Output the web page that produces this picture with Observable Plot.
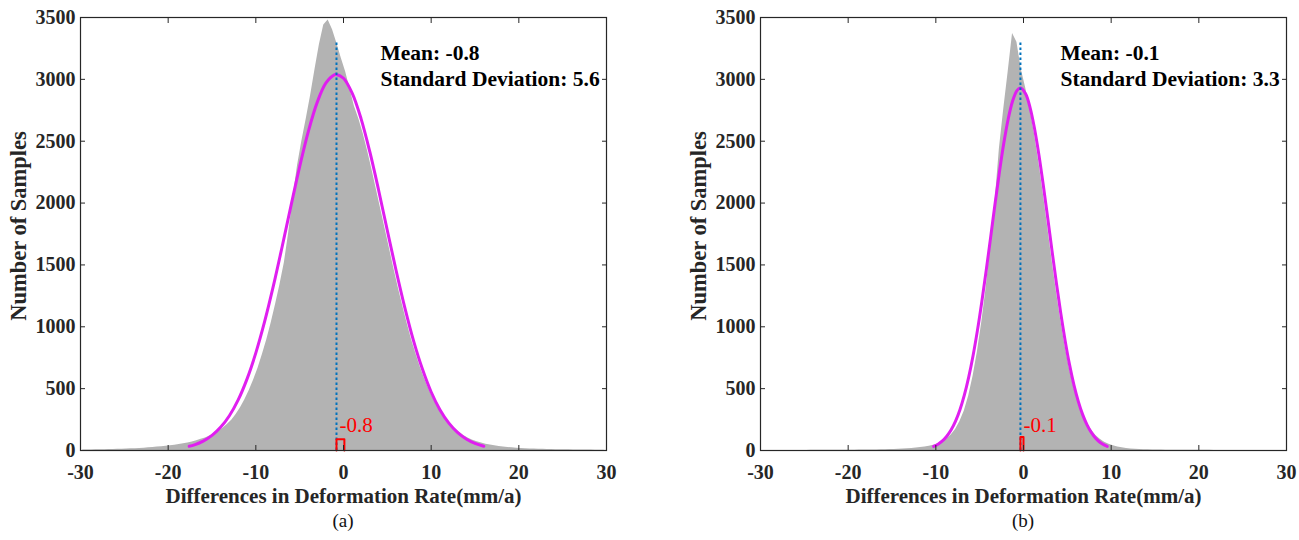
<!DOCTYPE html>
<html>
<head>
<meta charset="utf-8">
<script src="https://cdn.jsdelivr.net/npm/d3@7"></script>
<script src="https://cdn.jsdelivr.net/npm/@observablehq/plot@0.6"></script>
<style>
  html, body { margin: 0; padding: 0; background: #fff; }
  #wrap { position: relative; width: 1299px; height: 540px; overflow: hidden; font-family: "Liberation Serif", "Times New Roman", serif; }
  .panel { position: absolute; top: 0; width: 619px; }
  .cap { position: absolute; top: 510px; width: 80px; text-align: center; font-size: 19px; line-height: 22px; color: #111; }
</style>
</head>
<body>
<div id="wrap">
  <div class="panel" id="pa" style="left:0px"></div>
  <div class="panel" id="pb" style="left:680px"></div>
  <div class="cap" style="left:303px">(a)</div>
  <div class="cap" style="left:983px">(b)</div>
</div>
<script>
// ---- tick labels ----
const xTicks = [-30, -20, -10, 0, 10, 20, 30];
const yTicks = [0, 500, 1000, 1500, 2000, 2500, 3000, 3500];
const xLabel = "Differences in Deformation Rate(mm/a)";
const yLabel = "Number of Samples";

// ---- histogram bins: 0.5 wide, from -30 to 30 ----
const binStart = -30, binWidth = 0.5;
const countsA = [
  4,5,5,6,7,7,8,9,10,11,12,14,15,17,19,22,25,28,31,35,
  39,43,48,54,61,68,78,90,102,118,135,155,180,210,245,290,345,410,485,570,
  665,775,895,1030,1180,1340,1515,1760,2040,2300,2500,2680,2870,3080,3280,3440,3480,3400,3290,3170,
  3060,2920,2780,2680,2560,2420,2270,2110,1950,1790,1630,1470,1315,1170,1030,900,785,675,580,495,
  420,355,300,252,210,175,145,120,100,83,70,60,51,44,38,33,29,25,22,19,
  17,15,13,12,11,10,9,8,7,7,6,6,5,5,4,4,4,3,3,3
];
const countsB = [
  1,1,1,1,1,1,1,1,1,1,1,2,2,2,2,2,2,2,3,3,
  3,3,4,4,4,5,5,6,7,8,9,10,12,14,17,20,24,29,35,42,
  52,68,92,125,170,235,320,440,600,800,1040,1320,1660,2000,2440,2760,3060,3370,3300,3080,
  2930,2760,2560,2330,2080,1810,1540,1285,1050,840,660,510,390,295,220,165,122,90,66,50,
  38,29,22,17,13,10,8,7,6,5,4,4,3,3,3,3,2,2,2,2,
  2,2,2,1,1,1,1,1,1,1,1,1,1,1,1,1,1,1,1,1
];

// ---- fitted normal curves ----
const curveAx = [-17.6,-17,-16,-15,-14,-13,-12,-11,-10,-9,-8,-7,-6,-5,-4,-3,-2,-1,-0.8,0,1,2,3,4,5,6,7,8,9,10,11,12,13,14,15,16];
const curveAy = [34,46,76,122,189,283,411,579,789,1041,1330,1647,1975,2295,2582,2814,2971,3038,3040,3009,2887,2683,2415,2106,1778,1455,1153,884,658,473,330,223,146,93,57,34];
const curveBx = [-10.25,-9.75,-9.25,-8.75,-8.25,-7.75,-7.25,-6.75,-6.25,-5.75,-5.25,-4.75,-4.25,-3.75,-3.25,-2.75,-2.25,-1.75,-1.25,-0.75,-0.35,0.25,0.75,1.25,1.75,2.25,2.75,3.25,3.75,4.25,4.75,5.25,5.75,6.25,6.75,7.25,7.75,8.25,8.75,9.25,9.55];
const curveBy = [33,51,77,115,167,237,329,447,593,768,973,1205,1457,1723,1992,2249,2483,2678,2823,2909,2930,2882,2772,2605,2393,2148,1885,1616,1354,1109,888,694,531,397,290,207,144,98,65,43,33];

// ---- statistics ----
const meanA = -0.8, sdA = 5.6, meanLineA = -0.8, meanTopA = 3300;
const meanB = -0.1, sdB = 3.3, meanLineB = -0.35, meanTopB = 3300;
const markerA = {w: 0.9, h: 90};
const markerB = {w: 0.35, h: 110};

const SERIF = "'Liberation Serif', 'Times New Roman', serif";
const INK = "#262626";
const fmt = d => String(d);

function panel(counts, cx, cy, mean, sd, lineX, lineTop, marker) {
  const hist = counts.map((c, i) => ({x: binStart + binWidth * (i + 0.5), count: c}));
  const curve = cx.map((x, i) => ({x, y: cy[i]}));
  const mk = [
    {x: lineX, y: 0}, {x: lineX, y: marker.h},
    {x: lineX + marker.w, y: marker.h}, {x: lineX + marker.w, y: 0}
  ];
  const meanStr = mean.toFixed(1);
  const info = `Mean: ${meanStr}\nStandard Deviation: ${sd.toFixed(1)}`;
  const font = {fontFamily: SERIF, fontWeight: "bold", fontSize: 21};
  const tickFont = {fontFamily: SERIF, fontWeight: "bold", fontSize: 20};
  return Plot.plot({
    width: 619, height: 510,
    marginLeft: 80, marginRight: 13, marginTop: 17, marginBottom: 60,
    x: {domain: [-30, 30], label: null},
    y: {domain: [0, 3500], label: null},
    style: {fontFamily: SERIF, fontSize: "21px", fontWeight: "bold", color: INK, background: "transparent", overflow: "visible"},
    marks: [
      Plot.areaY(hist, {x: "x", y: "count", fill: "#b3b3b3"}),
      Plot.line(curve, {x: "x", y: "y", stroke: "#e01ef0", strokeWidth: 3, curve: "catmull-rom"}),
      Plot.ruleX([lineX], {y1: 0, y2: lineTop, stroke: "#0072bd", strokeWidth: 2, strokeDasharray: "2.5,2.5"}),
      Plot.line(mk, {x: "x", y: "y", stroke: "#ff0000", strokeWidth: 2}),
      Plot.text([meanStr], {x: lineX, y: 200, text: d => d, textAnchor: "start", dx: 3, fill: "#ff0000", fontFamily: SERIF, fontWeight: "normal", fontSize: 21}),
      Plot.text([info], {frameAnchor: "top-left", dx: 300, dy: 25, text: d => d, textAnchor: "start", lineAnchor: "top", lineHeight: 1.17, fill: "#000", fontFamily: SERIF, fontWeight: "bold", fontSize: 21.5}),
      Plot.frame({stroke: INK, strokeWidth: 1.2}),
      Plot.axisX({anchor: "bottom", ticks: xTicks, tickFormat: fmt, tickSize: -5, tickPadding: 19.5, stroke: INK, fill: INK, ...tickFont}),
      Plot.axisX({anchor: "top", ticks: xTicks, tickSize: -5, stroke: INK, fill: "none"}),
      Plot.axisY({anchor: "left", ticks: yTicks, tickFormat: fmt, tickSize: -5, tickPadding: 10, stroke: INK, fill: INK, ...tickFont}),
      Plot.axisY({anchor: "right", ticks: yTicks, tickSize: -5, stroke: INK, fill: "none"}),
      Plot.text([xLabel], {frameAnchor: "bottom", dy: 45.5, text: d => d, lineAnchor: "middle", textAnchor: "middle", fill: INK, ...font}),
      Plot.text([yLabel], {frameAnchor: "left", dx: -62, dy: -8, rotate: -90, text: d => d, textAnchor: "middle", lineAnchor: "middle", fill: INK, ...font, fontSize: 22.5})
    ]
  });
}

document.getElementById("pa").appendChild(panel(countsA, curveAx, curveAy, meanA, sdA, meanLineA, meanTopA, markerA));
document.getElementById("pb").appendChild(panel(countsB, curveBx, curveBy, meanB, sdB, meanLineB, meanTopB, markerB));
</script>
</body>
</html>
